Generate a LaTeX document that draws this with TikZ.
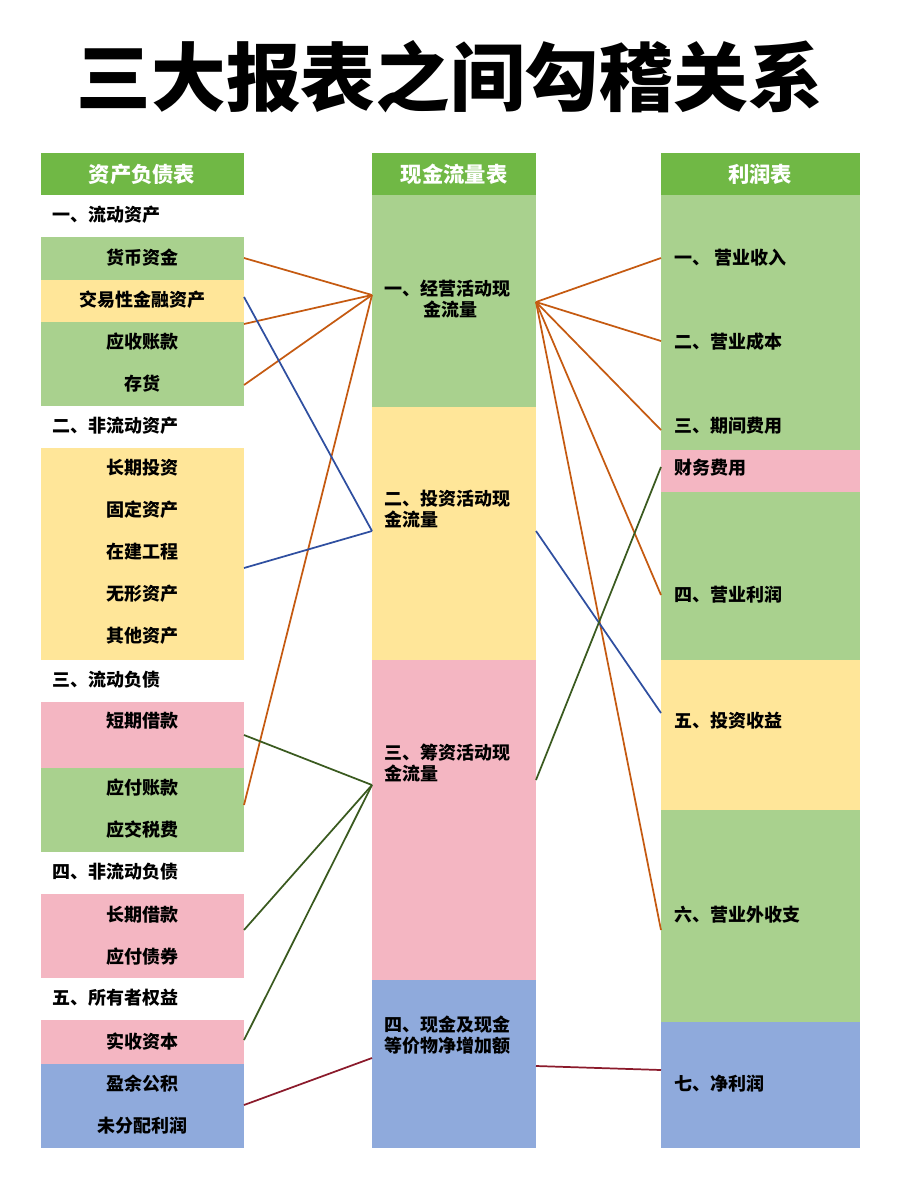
\documentclass[tikz,border=0pt]{standalone}
\usepackage{fontspec}
\setmainfont{Noto Sans CJK SC}
\begin{document}
\begin{tikzpicture}[x=0.75pt,y=-0.75pt,
  lbl/.style={font=\bfseries\fontsize{13.5}{16}\selectfont,anchor=center,inner sep=0pt},
  llbl/.style={font=\bfseries\fontsize{13.5}{16}\selectfont,anchor=west,inner sep=0pt,align=left},
  hdr/.style={font=\bfseries\fontsize{16}{18}\selectfont,text=white,anchor=center,inner sep=0pt},
  orl/.style={draw=co,line width=1.3pt},
  bll/.style={draw=cbl,line width=1.3pt},
  grl/.style={draw=cgr,line width=1.3pt},
  rdl/.style={draw=crd,line width=1.3pt}]
\definecolor{cg}{HTML}{A9D18E}\definecolor{ch}{HTML}{70B845}
\definecolor{cy}{HTML}{FFE699}\definecolor{cp}{HTML}{F4B6C2}\definecolor{cb}{HTML}{8FAADC}
\definecolor{co}{HTML}{C55A11}\definecolor{cbl}{HTML}{2F4FA0}\definecolor{cgr}{HTML}{3A5A1F}\definecolor{crd}{HTML}{8B1A2B}
\fill[white] (0,0) rectangle (900,1200);
\useasboundingbox (0,0) rectangle (900,1200);
\node[font=\bfseries\fontsize{56}{60}\selectfont] (title) at (450,77) {三大报表之间勾稽关系};
% left column
\fill[ch] (41,153) rectangle (244,195);
\fill[cg] (41,237) rectangle (244,280);
\fill[cy] (41,280) rectangle (244,322);
\fill[cg] (41,322) rectangle (244,406);
\fill[cy] (41,448) rectangle (244,660);
\fill[cp] (41,702) rectangle (244,768);
\fill[cg] (41,768) rectangle (244,852);
\fill[cp] (41,894) rectangle (244,978);
\fill[cp] (41,1020) rectangle (244,1064);
\fill[cb] (41,1064) rectangle (244,1148);
\node[hdr] (h1) at (142,174) {资产负债表};
\node[llbl] (l0) at (52,215) {一、流动资产};
\node[lbl] (l1) at (142,258) {货币资金};
\node[lbl] (l2) at (142,300) {交易性金融资产};
\node[lbl] (l3) at (142,342) {应收账款};
\node[lbl] (l4) at (142,384) {存货};
\node[llbl] (l5) at (52,426) {二、非流动资产};
\node[lbl] (l6) at (142,468) {长期投资};
\node[lbl] (l7) at (142,510) {固定资产};
\node[lbl] (l8) at (142,552) {在建工程};
\node[lbl] (l9) at (142,594) {无形资产};
\node[lbl] (l10) at (142,636) {其他资产};
\node[llbl] (l11) at (52,680) {三、流动负债};
\node[lbl] (l12) at (142,721) {短期借款};
\node[lbl] (l13) at (142,788) {应付账款};
\node[lbl] (l14) at (142,830) {应交税费};
\node[llbl] (l15) at (52,872) {四、非流动负债};
\node[lbl] (l16) at (142,915) {长期借款};
\node[lbl] (l17) at (142,957) {应付债券};
\node[llbl] (l18) at (52,998) {五、所有者权益};
\node[lbl] (l19) at (142,1042) {实收资本};
\node[lbl] (l20) at (142,1084) {盈余公积};
\node[lbl] (l21) at (142,1126) {未分配利润};
% middle column
\fill[ch] (372,153) rectangle (536,195);
\fill[cg] (372,195) rectangle (536,407);
\fill[cy] (372,407) rectangle (536,660);
\fill[cp] (372,660) rectangle (536,980);
\fill[cb] (372,980) rectangle (536,1148);
\node[hdr] (h2) at (454,174) {现金流量表};
\node[llbl] (m1) at (384,299) {一、经营活动现\\\hspace{2.2em}金流量};
\node[llbl] (m2) at (384,509) {二、投资活动现\\金流量};
\node[llbl] (m3) at (384,763) {三、筹资活动现\\金流量};
\node[llbl] (m4) at (384,1035) {四、现金及现金\\等价物净增加额};
% right column
\fill[ch] (661,153) rectangle (860,195);
\fill[cg] (661,195) rectangle (860,450);
\fill[cp] (661,450) rectangle (860,492);
\fill[cg] (661,492) rectangle (860,660);
\fill[cy] (661,660) rectangle (860,810);
\fill[cg] (661,810) rectangle (860,1022);
\fill[cb] (661,1022) rectangle (860,1148);
\node[hdr] (h3) at (760,174) {利润表};
\node[llbl] (r1) at (674,258) {一、 营业收入};
\node[llbl] (r2) at (674,342) {二、营业成本};
\node[llbl] (r3) at (674,426) {三、期间费用};
\node[llbl] (r4) at (674,468) {财务费用};
\node[llbl] (r5) at (674,595) {四、营业利润};
\node[llbl] (r6) at (674,721) {五、投资收益};
\node[llbl] (r7) at (674,915) {六、营业外收支};
\node[llbl] (r8) at (674,1084) {七、净利润};
% anchor coordinates
\coordinate (a1) at (244,258); \coordinate (a2) at (244,324); \coordinate (a3) at (244,385);
\coordinate (a4) at (244,805); \coordinate (b1) at (244,297); \coordinate (b2) at (244,568);
\coordinate (g1) at (244,735); \coordinate (g2) at (244,930); \coordinate (g3) at (244,1040);
\coordinate (d1) at (244,1105);
\coordinate (M1) at (372,295); \coordinate (M2) at (372,531); \coordinate (M3) at (372,785);
\coordinate (M4) at (372,1058);
\coordinate (N1) at (536,302); \coordinate (N2) at (536,531); \coordinate (N3) at (536,780);
\coordinate (N4) at (536,1066);
\coordinate (R1) at (661,258); \coordinate (R2) at (661,341); \coordinate (R3) at (661,430);
\coordinate (R4) at (661,467); \coordinate (R5) at (661,595); \coordinate (R6) at (661,713);
\coordinate (R7) at (661,930); \coordinate (R8) at (661,1070);
\draw[orl] (a1)--(M1); \draw[orl] (a2)--(M1); \draw[orl] (a3)--(M1); \draw[orl] (a4)--(M1);
\draw[bll] (b1)--(M2); \draw[bll] (b2)--(M2);
\draw[grl] (g1)--(M3); \draw[grl] (g2)--(M3); \draw[grl] (g3)--(M3);
\draw[rdl] (d1)--(M4);
\foreach \r in {R1,R2,R3,R5,R7} \draw[orl] (N1)--(\r);
\draw[bll] (N2)--(R6);
\draw[grl] (N3)--(R4);
\draw[rdl] (N4)--(R8);
\end{tikzpicture}
\end{document}
